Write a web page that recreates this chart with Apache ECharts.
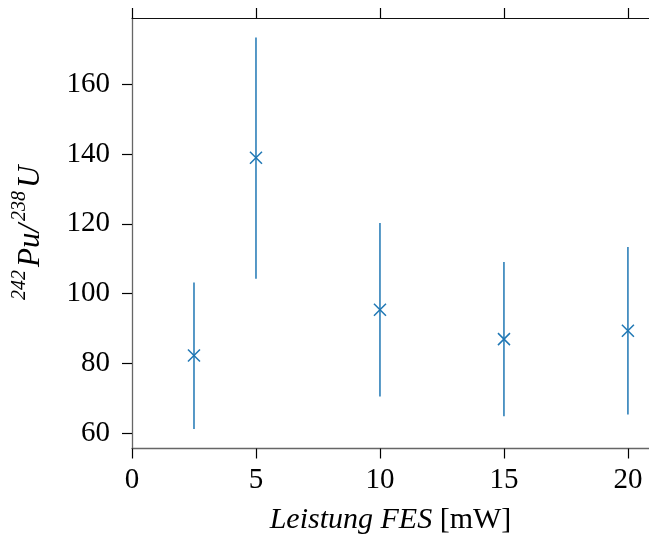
<!DOCTYPE html>
<html>
<head>
<meta charset="utf-8">
<script src="https://cdn.jsdelivr.net/npm/echarts@6/dist/echarts.min.js"></script>
<style>html,body{margin:0;padding:0;background:#fff}#c{width:649px;height:536px}</style>
</head>
<body>
<div id="c"></div>
<script>
// Data
const xValues = [2.5, 5, 10, 15, 20];
const yValues = [82.3, 138.9, 95.4, 87.0, 89.4];
const yLow = [61.3, 104.3, 70.6, 64.9, 65.4];
const yHigh = [103.2, 173.3, 120.2, 109.1, 113.4];
const xTicks = [0, 5, 10, 15, 20];
const yTicks = [60, 80, 100, 120, 140, 160];

const color = '#1f77b4';
const font = 'Liberation Serif';
const chart = echarts.init(document.getElementById('c'), null, {renderer: 'canvas'});

const data = xValues.map((x, i) => [x, yValues[i], yLow[i], yHigh[i]]);

chart.setOption({
  animation: false,
  grid: {left: 132, top: 18, right: 0, bottom: 87.5, containLabel: false, outerBoundsMode: 'none'},
  xAxis: [{
    type: 'value', min: 0, max: 20.85, position: 'bottom',
    splitLine: {show: false},
    axisLine: {lineStyle: {color: '#666', width: 1.3}},
    axisTick: {length: 10, lineStyle: {color: '#000', width: 1.2}, customValues: xTicks},
    axisLabel: {customValues: xTicks, color: '#000', fontFamily: font, fontSize: 29, margin: 17},
    name: '{i|Leistung FES}{r| [mW]}',
    nameLocation: 'middle', nameGap: 57,
    nameTextStyle: {rich: {
      i: {fontFamily: font, fontSize: 30, fontStyle: 'italic', color: '#000'},
      r: {fontFamily: font, fontSize: 30, color: '#000'}
    }}
  }, {
    type: 'value', min: 0, max: 20.85, position: 'top',
    splitLine: {show: false},
    axisLine: {lineStyle: {color: '#111', width: 1.2}},
    axisTick: {length: 10, lineStyle: {color: '#000', width: 1.2}, customValues: xTicks},
    axisLabel: {show: false}
  }],
  yAxis: {
    type: 'value', min: 55.7, max: 178.9,
    splitLine: {show: false},
    axisLine: {show: true, lineStyle: {color: '#666', width: 1.3}},
    axisTick: {show: true, length: 10, lineStyle: {color: '#000', width: 1.2}, customValues: yTicks},
    axisLabel: {customValues: yTicks, color: '#000', fontFamily: font, fontSize: 29, margin: 22},
    name: '{s|242}{m|Pu/}{s|238}{m|U}',
    nameLocation: 'middle', nameGap: 86,
    nameTextStyle: {rich: {
      m: {fontFamily: font, fontSize: 31, fontStyle: 'italic', color: '#000', lineHeight: 36, verticalAlign: 'bottom', padding: [0, 1, 0, 1]},
      s: {fontFamily: font, fontSize: 20, fontStyle: 'italic', color: '#000', lineHeight: 36, verticalAlign: 'top', padding: [0, 2, 0, 2]}
    }}
  },
  series: [{
    type: 'custom',
    xAxisIndex: 0,
    data: data,
    renderItem: function (params, api) {
      const x = api.value(0);
      const p = api.coord([x, api.value(1)]);
      const lo = api.coord([x, api.value(2)]);
      const hi = api.coord([x, api.value(3)]);
      const h = 6;
      const st = {stroke: color, lineWidth: 1.5, fill: null};
      return {
        type: 'group',
        children: [
          {type: 'line', shape: {x1: lo[0], y1: lo[1], x2: hi[0], y2: hi[1]}, style: st},
          {type: 'line', shape: {x1: p[0] - h, y1: p[1] - h, x2: p[0] + h, y2: p[1] + h}, style: st},
          {type: 'line', shape: {x1: p[0] - h, y1: p[1] + h, x2: p[0] + h, y2: p[1] - h}, style: st}
        ]
      };
    }
  }]
});
</script>
</body>
</html>
